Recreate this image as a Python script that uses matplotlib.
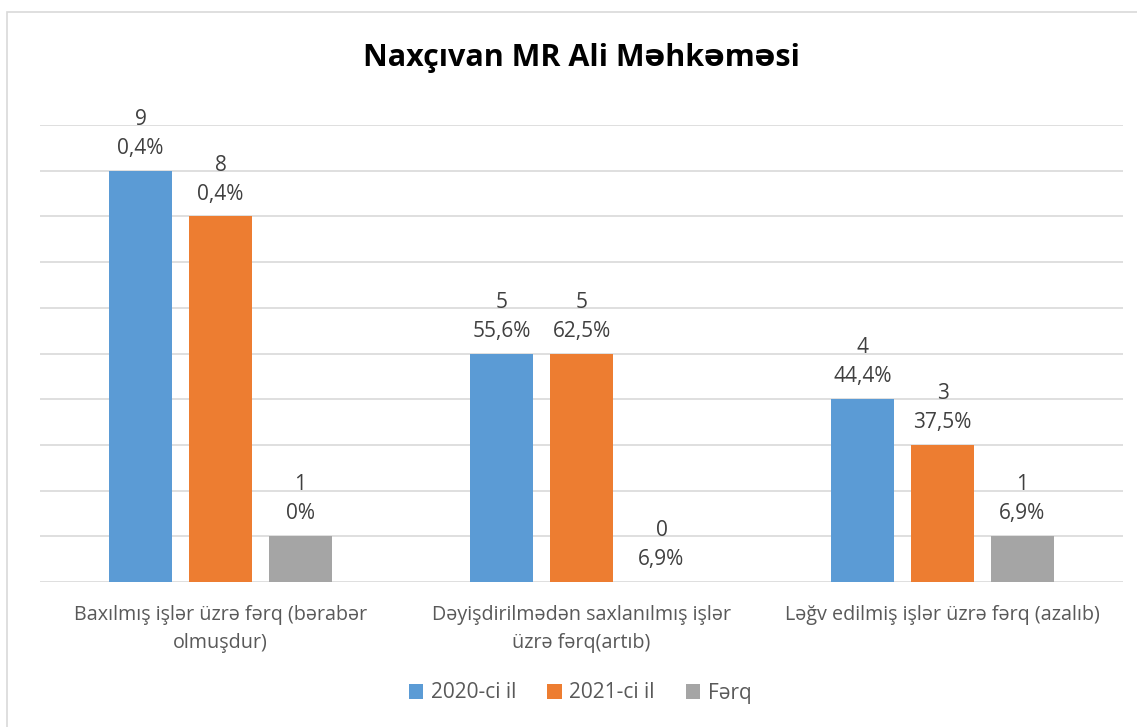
import matplotlib
matplotlib.use("Agg")
import matplotlib.pyplot as plt
import numpy as np
from matplotlib.patches import Rectangle

categories = ["Baxılmış işlər üzrə fərq (bərabər\nolmuşdur)",
              "Dəyişdirilmədən saxlanılmış işlər\nüzrə fərq(artıb)",
              "Ləğv edilmiş işlər üzrə fərq (azalıb)"]
series_names = ["2020-ci il", "2021-ci il", "Fərq"]
values_2020 = [9, 5, 4]
values_2021 = [8, 5, 3]
values_diff = [1, 0, 1]
pct_2020 = ["0,4%", "55,6%", "44,4%"]
pct_2021 = ["0,4%", "62,5%", "37,5%"]
pct_diff = ["0%", "6,9%", "6,9%"]
colors = ["#5B9BD5", "#ED7D31", "#A5A5A5"]

plt.rcParams['font.family'] = ['Open Sans', 'DejaVu Sans']

fig = plt.figure(figsize=(11.37, 7.27), dpi=100)
# chart border
fig.patches.append(Rectangle((7/1137, -0.05), 1.1, (727-12)/727 + 0.05, transform=fig.transFigure,
                             fill=False, edgecolor="#d9d9d9", linewidth=1.2))

ax = fig.add_axes([40/1137, (727-582)/727, (1123-40)/1137, (582-125)/727])
x = np.arange(len(categories))
width = 0.1745
offset = 0.2216
all_vals = [values_2020, values_2021, values_diff]
all_pcts = [pct_2020, pct_2021, pct_diff]
for i, (vals, pcts) in enumerate(zip(all_vals, all_pcts)):
    pos = x + (i - 1) * offset
    ax.bar(pos, vals, width, color=colors[i], label=series_names[i], zorder=3)
    for p, v, t in zip(pos, vals, pcts):
        ax.annotate(f"{v}\n{t}", (p, v), xytext=(0, 8.5), textcoords="offset points",
                    ha="center", va="bottom", fontsize=15, color="#404040",
                    linespacing=1.5)

ax.set_xlim(-0.5, 2.5)
ax.set_ylim(0, 10)
ax.set_yticks(np.arange(0, 11, 1))
ax.yaxis.grid(True, color="#d9d9d9", linewidth=1.2, zorder=0)
ax.tick_params(axis='y', left=False, labelleft=False)
ax.tick_params(axis='x', bottom=False, pad=13)
ax.set_xticks(x)
ax.set_xticklabels(categories, fontsize=14.2, color="#595959", linespacing=1.55)
for s in ax.spines.values():
    s.set_visible(False)

fig.text(581/1137, 1 - 58/727, "Naxçıvan MR Ali Məhkəməsi", ha="center", va="center",
         fontsize=22, fontweight="bold", color="#000000")

leg = fig.legend(loc="center", bbox_to_anchor=(580/1137, 1 - 693/727), ncol=3, frameon=False,
                 fontsize=15, handlelength=0.7, handleheight=0.7, columnspacing=1.5,
                 handletextpad=0.35)
for t in leg.get_texts():
    t.set_color("#595959")

fig.savefig("out.png", dpi=100)
